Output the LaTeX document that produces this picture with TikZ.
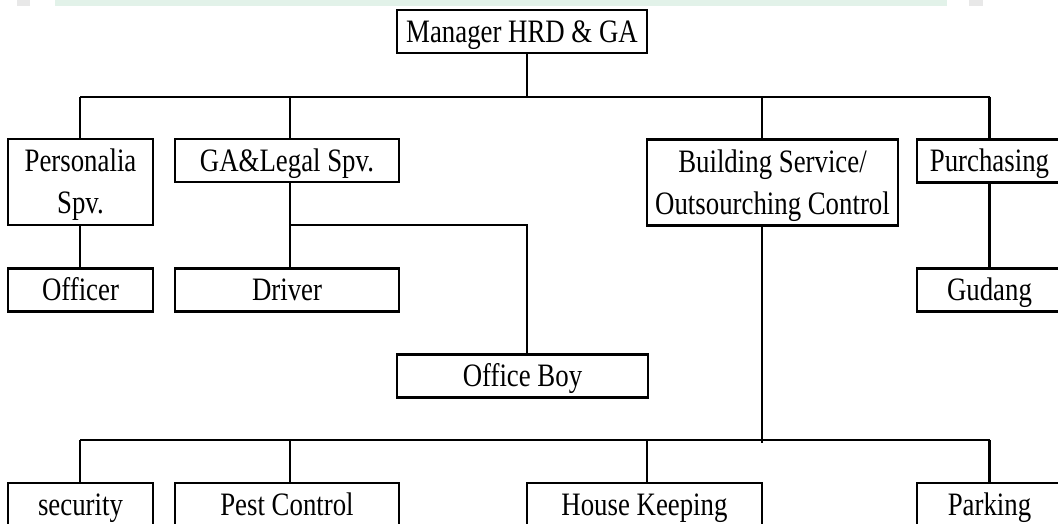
\documentclass[tikz,border=0pt]{standalone}
\usepackage{fontspec}
\setmainfont{Liberation Serif}[FakeStretch=0.82]
\newcommand\diagfont{\fontsize{32.7}{42}\selectfont}
\definecolor{wmgreen}{RGB}{226,242,233}
\definecolor{wmgray}{RGB}{232,232,232}
\begin{document}
\begin{tikzpicture}[x=1pt,y=-1pt,
  box/.style={draw, line width=2.3pt, inner sep=0pt, minimum height=43pt,
              text height=21.7pt, text depth=0pt, font=\diagfont},
  tallbox/.style={box, minimum height=86pt, text height=63.7pt, text depth=0pt, align=center},
  conn/.style={line width=2.3pt}]
\useasboundingbox (0,0) rectangle (1058,524);
\clip (0,0) rectangle (1058,524);
% faint watermark remnant at the top edge
\fill[wmgreen] (55,0) rectangle (947,6);
\fill[wmgray] (17,0) rectangle (30,6);
\fill[wmgray] (969,0) rectangle (983,6);

% boxes
\node[box, minimum width=250pt] (mgr) at (522,31.5) {Manager HRD \& GA};
\node[tallbox, minimum width=145pt] (pers) at (80.5,182) {Personalia\\Spv.};
\node[box, minimum width=224pt] (ga) at (287,160.5) {GA\&Legal Spv.};
\node[tallbox, minimum width=251pt] (bld) at (772.5,182.5) {Building Service/\\Outsourching Control};
\node[box, minimum width=145pt] (pur) at (989.5,161) {Purchasing};
\node[box, minimum width=145pt] (off) at (80.5,290) {Officer};
\node[box, minimum width=224pt] (drv) at (287,290) {Driver};
\node[box, minimum width=145pt] (gud) at (989.5,290) {Gudang};
\node[box, minimum width=251pt] (boy) at (522.5,376) {Office Boy};
\node[box, minimum width=145pt] (sec) at (80.5,504.5) {security};
\node[box, minimum width=224pt] (pest) at (287,504.5) {Pest Control};
\node[box, minimum width=235pt] (hk) at (644.5,504.5) {House Keeping};
\node[box, minimum width=145pt] (park) at (989.5,504.5) {Parking};

% junction points
\coordinate (jmgr) at (527,97);
\coordinate (jpers) at (80,97);
\coordinate (jga) at (290,97);
\coordinate (jbld) at (762,97);
\coordinate (jpur) at (989.5,97);
\coordinate (gasplit) at (290,225);
\coordinate (kbld) at (762,443);
\coordinate (ksec) at (80,440);
\coordinate (kpest) at (290,440);
\coordinate (khk) at (647,440);
\coordinate (kpark) at (989.5,440);

% connectors
\draw[conn] (mgr.south -| jmgr) -- (jmgr);
\draw[conn] (jpers) -- (jpur);
\draw[conn] (jpers) -- (jpers |- pers.north);
\draw[conn] (jga) -- (jga |- ga.north);
\draw[conn] (jbld) -- (jbld |- bld.north);
\draw[conn] (jpur) -- (jpur |- pur.north);
\draw[conn] (pers.south -| jpers) -- (off.north -| jpers);
\draw[conn] (ga.south -| jga) -- (drv.north -| jga);
\draw[conn] (gasplit) -| ([xshift=4.5pt]boy.north);
\draw[conn] (pur.south) -- (gud.north);
\draw[conn] (bld.south -| kbld) -- (kbld);
\draw[conn] (ksec) -- (kpark);
\draw[conn] (ksec) -- (ksec |- sec.north);
\draw[conn] (kpest) -- (kpest |- pest.north);
\draw[conn] (khk) -- (khk |- hk.north);
\draw[conn] (kpark) -- (kpark |- park.north);
\end{tikzpicture}
\end{document}
